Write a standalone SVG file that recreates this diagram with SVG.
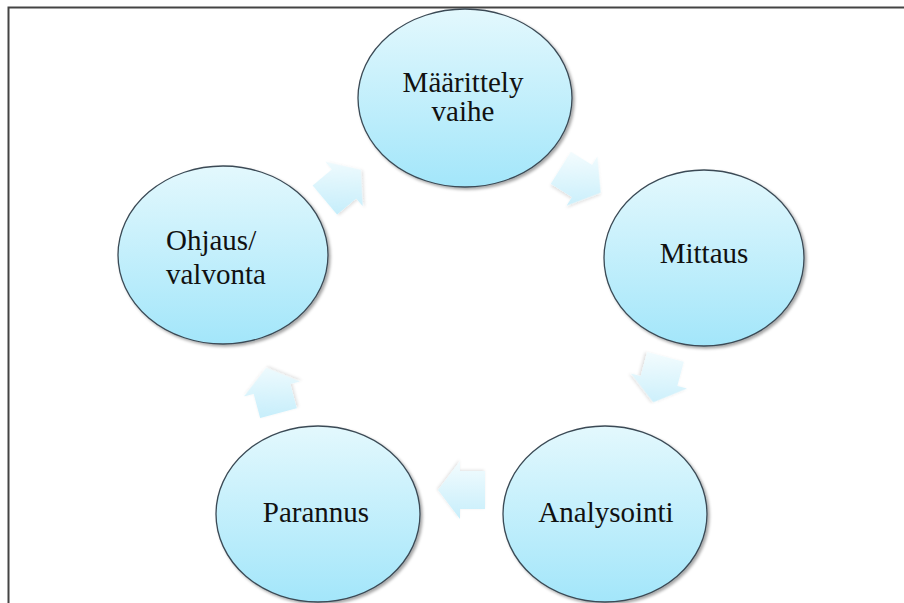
<svg xmlns="http://www.w3.org/2000/svg" width="904" height="603" viewBox="0 0 904 603">
  <defs>
    <linearGradient id="bubble" x1="0" y1="0" x2="0" y2="1">
      <stop offset="0" stop-color="#e3f8fd"/>
      <stop offset="1" stop-color="#a3e6fa"/>
    </linearGradient>
    <filter id="shade" x="-10%" y="-10%" width="125%" height="125%">
      <feGaussianBlur in="SourceAlpha" stdDeviation="1.6"/>
      <feOffset dx="1.5" dy="2" result="b"/>
      <feFlood flood-color="#000" flood-opacity="0.35"/>
      <feComposite in2="b" operator="in"/>
      <feMerge><feMergeNode/><feMergeNode in="SourceGraphic"/></feMerge>
    </filter>
    <filter id="soft" x="-20%" y="-20%" width="140%" height="140%">
      <feGaussianBlur in="SourceAlpha" stdDeviation="1.5"/>
      <feOffset dx="1" dy="1.5" result="b"/>
      <feFlood flood-color="#000" flood-opacity="0.12"/>
      <feComposite in2="b" operator="in"/>
      <feMerge><feMergeNode/><feMergeNode in="SourceGraphic"/></feMerge>
    </filter>
    <!-- block arrow pointing along +x, head base at origin -->
    <path id="arrow" d="M-25,-19 L0,-19 L0,-29 L22,0 L0,29 L0,19 L-25,19 Z"/>
    <!-- each arrow gets a gradient that stays vertical on screen after rotation -->
    <linearGradient id="ag1" gradientUnits="userSpaceOnUse" x1="19.3" y1="-23" x2="-19.3" y2="23">
      <stop offset="0" stop-color="#f4fcfe"/><stop offset="1" stop-color="#c6eefb"/>
    </linearGradient>
    <linearGradient id="ag2" gradientUnits="userSpaceOnUse" x1="-15.9" y1="-25.4" x2="15.9" y2="25.4">
      <stop offset="0" stop-color="#f4fcfe"/><stop offset="1" stop-color="#c6eefb"/>
    </linearGradient>
    <linearGradient id="ag3" gradientUnits="userSpaceOnUse" x1="-29" y1="7.8" x2="29" y2="-7.8">
      <stop offset="0" stop-color="#f4fcfe"/><stop offset="1" stop-color="#c6eefb"/>
    </linearGradient>
    <linearGradient id="ag4" gradientUnits="userSpaceOnUse" x1="0" y1="30" x2="0" y2="-30">
      <stop offset="0" stop-color="#f4fcfe"/><stop offset="1" stop-color="#c6eefb"/>
    </linearGradient>
    <linearGradient id="ag5" gradientUnits="userSpaceOnUse" x1="29" y1="7.8" x2="-29" y2="-7.8">
      <stop offset="0" stop-color="#f4fcfe"/><stop offset="1" stop-color="#c6eefb"/>
    </linearGradient>
  </defs>
  <style>
    .frame { fill: none; stroke: #444; stroke-width: 2; }
    .node ellipse { fill: url(#bubble); stroke: #3b4a55; stroke-width: 1.3; filter: url(#shade); }
    .node text { font-family: "Liberation Serif", "Times New Roman", serif; font-size: 29px; fill: #111; }
    .c { text-anchor: middle; }
    .conn use { filter: url(#soft); }
  </style>

  <rect width="904" height="603" fill="#fff"/>
  <polyline class="frame" points="8.5,603 8.5,7.5 904,7.5"/>

  <g id="connectors" class="conn">
    <use href="#arrow" fill="url(#ag1)" transform="translate(344,184) rotate(-40)"/>
    <use href="#arrow" fill="url(#ag2)" transform="translate(582,181) rotate(32)"/>
    <use href="#arrow" fill="url(#ag3)" transform="translate(659,381) rotate(105)"/>
    <use href="#arrow" fill="url(#ag4)" transform="translate(460,490) rotate(180)"/>
    <use href="#arrow" fill="url(#ag5)" transform="translate(272,389) rotate(-105)"/>
  </g>

  <g id="maarittely" class="node">
    <ellipse cx="465" cy="98" rx="107" ry="89"/>
    <text class="c" x="463" y="92">Määrittely</text>
    <text class="c" x="463" y="121">vaihe</text>
  </g>
  <g id="mittaus" class="node">
    <ellipse cx="704" cy="258" rx="100" ry="88"/>
    <text class="c" x="704" y="263">Mittaus</text>
  </g>
  <g id="analysointi" class="node">
    <ellipse cx="605" cy="514" rx="102" ry="88"/>
    <text class="c" x="606" y="522">Analysointi</text>
  </g>
  <g id="parannus" class="node">
    <ellipse cx="318" cy="514" rx="102" ry="88"/>
    <text class="c" x="316" y="522">Parannus</text>
  </g>
  <g id="ohjaus" class="node">
    <ellipse cx="223" cy="255" rx="105" ry="89"/>
    <text x="166" y="250">Ohjaus/</text>
    <text x="166" y="284">valvonta</text>
  </g>
</svg>
